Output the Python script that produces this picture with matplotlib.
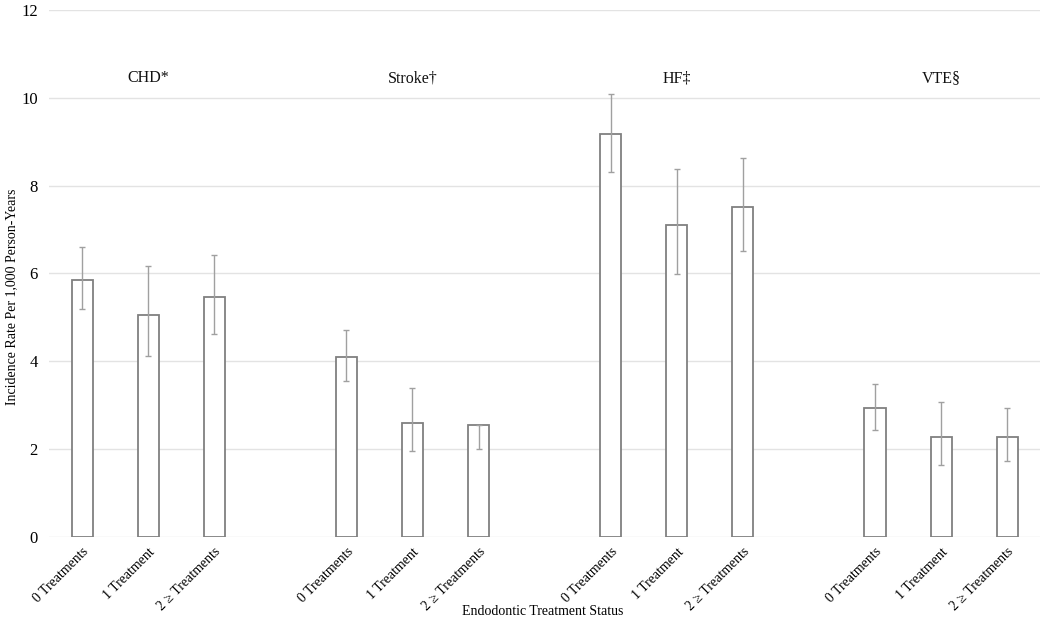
import matplotlib.pyplot as plt

plt.rcParams['font.family'] = ['Liberation Serif', 'DejaVu Serif']

outcomes = ['CHD*', 'Stroke\u2020', 'HF\u2021', 'VTE\u00a7']
treatments = ['0 Treatments', '1 Treatment', '2 \u2265 Treatments']

# incidence rate per 1,000 person-years, with 95% CI bounds
rates = [[5.85, 5.06, 5.47],
         [4.10, 2.60, 2.55],
         [9.18, 7.11, 7.52],
         [2.94, 2.28, 2.28]]
ci_low = [[5.19, 4.12, 4.62],
          [3.55, 1.96, 2.00],
          [8.31, 5.99, 6.51],
          [2.44, 1.64, 1.73]]
ci_high = [[6.60, 6.17, 6.42],
           [4.72, 3.39, 2.56],
           [10.09, 8.38, 8.63],
           [3.49, 3.08, 2.94]]

fig = plt.figure(figsize=(10.5, 6.21), dpi=100)
ax = fig.add_axes([0.0467, 0.1353, 0.944, 0.8486])

xs, vals, lo, hi, labels = [], [], [], [], []
for g in range(len(outcomes)):
    for t in range(len(treatments)):
        xs.append(g * 4 + t)
        vals.append(rates[g][t])
        lo.append(rates[g][t] - ci_low[g][t])
        hi.append(ci_high[g][t] - rates[g][t])
        labels.append(treatments[t])

ax.bar(xs, vals, width=0.32, color='white', edgecolor='#808080', linewidth=1.3, zorder=3)
ax.errorbar(xs, vals, yerr=[lo, hi], fmt='none', ecolor='#a0a0a0', elinewidth=1.0,
            capsize=2.5, capthick=1.0, zorder=4)

for g, name in enumerate(outcomes):
    ax.text(g * 4 + 1, 10.45, name, ha='center', va='center', fontsize=11.5, color='#111111')

ax.set_xlim(-0.5, 14.5)
ax.set_ylim(0, 12)
ax.set_yticks(range(0, 13, 2))
ax.set_xticks(xs)
ax.set_xticklabels(labels, rotation=45, ha='right', rotation_mode='anchor', fontsize=10)
ax.tick_params(axis='y', labelsize=12, length=0, pad=8)
ax.tick_params(axis='x', length=0, pad=6)
ax.grid(axis='y', color='#e3e3e3', linewidth=1.0, zorder=0)
for s in ax.spines.values():
    s.set_visible(False)

fig.text(0.011, 0.522, 'Incidence Rate Per 1,000 Person-Years', rotation=90,
         ha='center', va='center', fontsize=10)
fig.text(0.517, 0.0145, 'Endodontic Treatment Status', ha='center', va='center', fontsize=10)

fig.savefig('out.png', dpi=100, facecolor='white')
